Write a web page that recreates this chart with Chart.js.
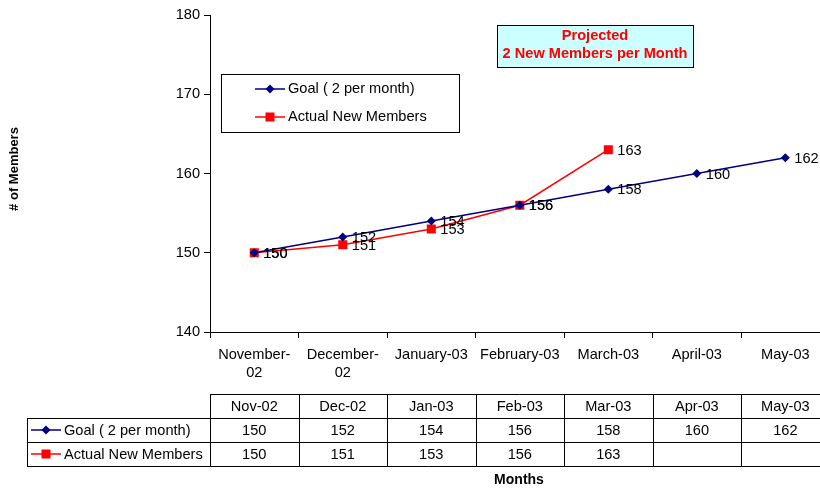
<!DOCTYPE html>
<html lang="en">
<head>
<meta charset="UTF-8">
<title>Members</title>
<script src="https://cdn.jsdelivr.net/npm/chart.js"></script>
<style>
  html, body { margin: 0; padding: 0; background: #fff; overflow: hidden; }
  #wrap { width: 836px; height: 488px; }
</style>
</head>
<body>
<div id="wrap"><canvas id="chartLine" width="836" height="488"></canvas></div>
<script>
// dados do gráfico
var meses = [['November-', '02'], ['December-', '02'], 'January-03', 'February-03', 'March-03', 'April-03', 'May-03'];
var mesesCurtos = ['Nov-02', 'Dec-02', 'Jan-03', 'Feb-03', 'Mar-03', 'Apr-03', 'May-03'];
var meta = [150, 152, 154, 156, 158, 160, 162];
var reais = [150, 151, 153, 156, 163, null, null];
var ticksY = [140, 150, 160, 170, 180];

var fonte = '"Liberation Sans", Arial, sans-serif';
var tam = 14.6;

function marcador(ctx, tipo, x, y) {
  ctx.save();
  if (tipo == 'diamond') {
    ctx.fillStyle = '#000080';
    ctx.beginPath();
    ctx.moveTo(x, y - 4.5); ctx.lineTo(x + 4.5, y); ctx.lineTo(x, y + 4.5); ctx.lineTo(x - 4.5, y);
    ctx.closePath(); ctx.fill();
  } else {
    ctx.fillStyle = '#FF0000';
    ctx.fillRect(x - 4.5, y - 4.5, 9, 9);
  }
  ctx.restore();
}

function chave(ctx, tipo, x, y, w) {
  ctx.save();
  ctx.strokeStyle = tipo == 'diamond' ? '#000080' : '#FF0000';
  ctx.lineWidth = 1.5;
  ctx.beginPath(); ctx.moveTo(x, y); ctx.lineTo(x + w, y); ctx.stroke();
  ctx.restore();
  marcador(ctx, tipo, x + w / 2, y);
}

// rótulos de valores, legenda, caixa de texto e tabela de dados
var extras = {
  id: 'extras',
  afterDatasetsDraw: function (chart) {
    var ctx = chart.ctx;
    var sx = chart.scales.x;
    ctx.save();
    ctx.font = tam + 'px ' + fonte;
    ctx.fillStyle = '#000';
    ctx.textBaseline = 'middle';
    ctx.textAlign = 'left';
    chart.data.datasets.forEach(function (ds, i) {
      chart.getDatasetMeta(i).data.forEach(function (p, j) {
        if (ds.data[j] == null) return;
        ctx.fillText(String(ds.data[j]), p.x + 9, p.y + 1);
      });
    });

    // legenda
    ctx.fillStyle = '#fff';
    ctx.fillRect(221, 74, 238, 58);
    ctx.strokeStyle = '#000';
    ctx.lineWidth = 1;
    ctx.strokeRect(221.5, 74.5, 238, 58);
    chave(ctx, 'diamond', 255, 89, 30);
    chave(ctx, 'rect', 255, 117, 30);
    ctx.fillStyle = '#000';
    ctx.fillText('Goal ( 2 per month)', 288, 89);
    ctx.fillText('Actual New Members', 288, 117);

    // caixa "Projected"
    ctx.fillStyle = '#CCFFFF';
    ctx.fillRect(497, 25, 196, 42);
    ctx.strokeRect(497.5, 25.5, 196, 42);
    ctx.fillStyle = '#FF0000';
    ctx.font = 'bold 14.6px ' + fonte;
    ctx.textAlign = 'center';
    ctx.fillText('Projected', 595, 36);
    ctx.fillText('2 New Members per Month', 595, 54);

    // tabela de dados
    var passo = sx.getPixelForValue(1) - sx.getPixelForValue(0);
    var esq = chart.chartArea.left;
    var dir = chart.chartArea.right;
    var y0 = 394, y1 = 418, y2 = 442, y3 = 466, xl = 27;
    ctx.strokeStyle = '#000';
    ctx.lineWidth = 1;
    ctx.beginPath();
    ctx.moveTo(esq, y0 + 0.5); ctx.lineTo(dir, y0 + 0.5);
    ctx.moveTo(xl, y1 + 0.5); ctx.lineTo(dir, y1 + 0.5);
    ctx.moveTo(xl, y2 + 0.5); ctx.lineTo(dir, y2 + 0.5);
    ctx.moveTo(xl, y3 + 0.5); ctx.lineTo(dir, y3 + 0.5);
    ctx.moveTo(xl + 0.5, y1); ctx.lineTo(xl + 0.5, y3);
    for (var c = 0; c <= mesesCurtos.length; c++) {
      var xc = Math.round(esq + c * passo) + 0.5;
      ctx.moveTo(xc, y0); ctx.lineTo(xc, y3);
    }
    ctx.stroke();

    ctx.font = tam + 'px ' + fonte;
    ctx.fillStyle = '#000';
    ctx.textAlign = 'center';
    for (var m = 0; m < mesesCurtos.length; m++) {
      var cx = sx.getPixelForValue(m);
      ctx.fillText(mesesCurtos[m], cx, (y0 + y1) / 2 + 1);
      ctx.fillText(String(meta[m]), cx, (y1 + y2) / 2 + 1);
      if (reais[m] != null) ctx.fillText(String(reais[m]), cx, (y2 + y3) / 2 + 1);
    }
    chave(ctx, 'diamond', 31, (y1 + y2) / 2, 30);
    chave(ctx, 'rect', 31, (y2 + y3) / 2, 30);
    ctx.fillStyle = '#000';
    ctx.textAlign = 'left';
    ctx.fillText('Goal ( 2 per month)', 64, (y1 + y2) / 2 + 1);
    ctx.fillText('Actual New Members', 64, (y2 + y3) / 2 + 1);

    // títulos dos eixos
    ctx.font = 'bold 14px ' + fonte;
    ctx.textAlign = 'center';
    ctx.fillText('Months', 519, 480);
    ctx.translate(14, 169);
    ctx.rotate(-Math.PI / 2);
    ctx.font = 'bold 13px ' + fonte;
    ctx.fillText('# of Members', 0, 0);
    ctx.restore();
  }
};

var ctxLine = document.getElementById('chartLine').getContext('2d');
var configLine = {
  type: 'line',
  data: {
    labels: meses,
    datasets: [
      {
        label: 'Goal ( 2 per month)',
        data: meta,
        borderColor: '#000080',
        backgroundColor: '#000080',
        borderWidth: 1.5,
        pointStyle: 'rectRot',
        pointRadius: 4.5,
        pointHoverRadius: 4.5,
        pointBorderWidth: 0,
        tension: 0
      },
      {
        label: 'Actual New Members',
        data: reais,
        borderColor: '#FF0000',
        backgroundColor: '#FF0000',
        borderWidth: 1.5,
        pointStyle: 'rect',
        pointRadius: 6.4,
        pointHoverRadius: 6.4,
        pointBorderWidth: 0,
        tension: 0
      }
    ]
  },
  options: {
    responsive: false,
    animation: false,
    layout: { padding: { top: 15, right: 2, bottom: 106, left: 0 } },
    plugins: { legend: { display: false }, tooltip: { enabled: false } },
    scales: {
      x: {
        offset: true,
        grid: { offset: true, drawOnChartArea: false, drawTicks: true, tickLength: 6, color: '#000' },
        border: { color: '#000', width: 1 },
        ticks: { color: '#000', font: { family: fonte, size: tam, lineHeight: 1.25 }, padding: 8, maxRotation: 0, autoSkip: false },
        afterFit: function (s) { s.height = 50; }
      },
      y: {
        min: 140,
        max: 180,
        afterBuildTicks: function (s) { s.ticks = ticksY.map(function (v) { return { value: v }; }); },
        grid: { drawOnChartArea: false, drawTicks: true, tickLength: 6, color: '#000' },
        border: { color: '#000', width: 1 },
        ticks: { color: '#000', font: { family: fonte, size: tam }, padding: 4 },
        afterFit: function (s) { s.width = 210; }
      }
    }
  },
  plugins: [extras]
};
var graficoLinha = new Chart(ctxLine, configLine);
</script>
</body>
</html>
